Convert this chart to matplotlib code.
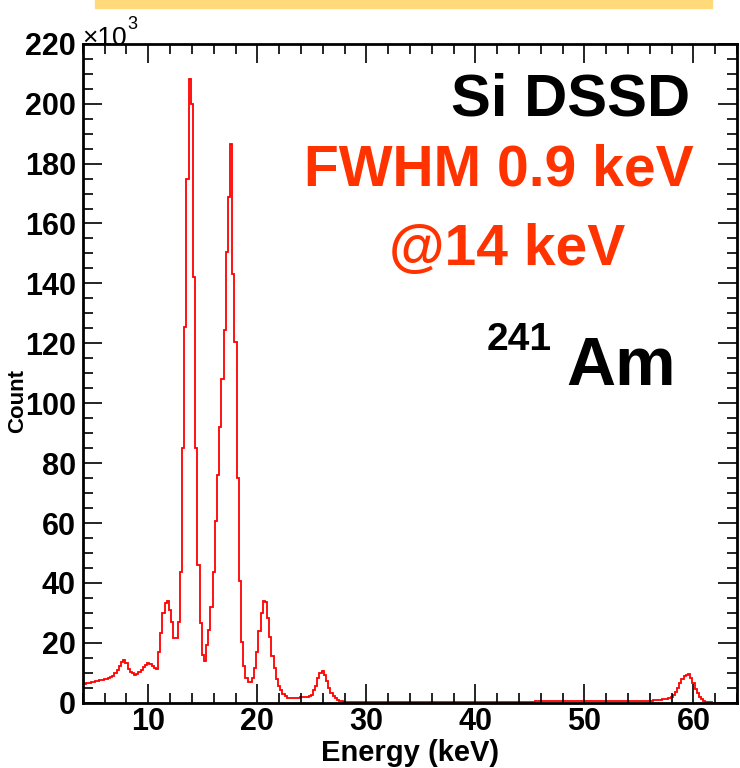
import numpy as np
import matplotlib
matplotlib.use("Agg")
import matplotlib.pyplot as plt
from matplotlib.ticker import MultipleLocator

# ROOT-like histogram of an Am-241 spectrum measured with a Si DSSD
bin_width = 0.2        # keV
first_edge = 3.9       # keV, lower edge of the first bin

# counts per bin in units of 10^3, bins centred at 4.0, 4.2, ... 64.0 keV
counts_k = [
    6.6, 6.4, 6.5, 6.6, 6.8,        # 4
    7.0, 7.1, 7.3, 7.5, 7.6,        # 5
    7.8, 8.0, 8.3, 8.6, 9.0,        # 6
    9.8, 10.8, 12.2, 13.6, 14.1,    # 7
    13.2, 11.4, 10.4, 9.8, 9.2,     # 8
    9.6, 10.2, 10.9, 11.9, 12.7,    # 9
    13.4, 13.0, 12.3, 11.6, 11.3,   # 10
    17.0, 23.2, 29.9, 33.2, 33.8,   # 11
    31.0, 27.0, 21.6, 21.6, 26.8,   # 12
    43.8, 85.0, 125.4, 175.0, 208.2,  # 13
    200.0, 142.0, 85.0, 46.0, 26.7,   # 14
    16.0, 13.8, 19.3, 24.3, 32.0,   # 15
    43.8, 60.8, 76.0, 92.0, 108.0,  # 16
    124.3, 150.4, 168.8, 186.6, 143.2,  # 17
    120.4, 75.0, 40.8, 20.4, 12.1,  # 18
    8.2, 6.8, 6.8, 8.2, 11.6,       # 19
    17.1, 23.8, 30.1, 33.8, 33.5,   # 20
    28.2, 22.1, 15.7, 11.6, 7.9,    # 21
    5.7, 4.3, 2.9, 2.1, 1.7,        # 22
    1.6, 1.5, 1.5, 1.6, 1.7,        # 23
    1.8, 1.9, 1.9, 2.0, 2.3,        # 24
    2.7, 4.3, 5.7, 8.2, 9.9,        # 25
    10.7, 9.3, 7.1, 4.9, 3.4,       # 26
    2.3, 1.6, 0.9, 0.7, 0.45,       # 27
    0.35, 0.3, 0.3, 0.28, 0.27,     # 28
    0.26, 0.25, 0.25, 0.24, 0.24,   # 29
    0.24, 0.23, 0.23, 0.22, 0.22,   # 30
    0.22, 0.21, 0.21, 0.21, 0.2,    # 31
    0.2, 0.2, 0.2, 0.19, 0.19,      # 32
    0.19, 0.19, 0.19, 0.18, 0.18,   # 33
    0.18, 0.18, 0.18, 0.18, 0.18,   # 34
    0.18, 0.18, 0.18, 0.18, 0.18,   # 35
    0.18, 0.18, 0.19, 0.19, 0.19,   # 36
    0.19, 0.19, 0.19, 0.2, 0.2,     # 37
    0.2, 0.2, 0.2, 0.2, 0.21,       # 38
    0.21, 0.21, 0.21, 0.22, 0.22,   # 39
    0.22, 0.22, 0.23, 0.23, 0.23,   # 40
    0.24, 0.24, 0.24, 0.25, 0.25,   # 41
    0.25, 0.26, 0.26, 0.27, 0.27,   # 42
    0.28, 0.28, 0.29, 0.3, 0.3,     # 43
    0.31, 0.32, 0.33, 0.34, 0.35,   # 44
    0.36, 0.38, 0.4, 0.42, 0.44,    # 45
    0.46, 0.48, 0.5, 0.52, 0.53,    # 46
    0.55, 0.56, 0.57, 0.58, 0.59,   # 47
    0.6, 0.6, 0.61, 0.61, 0.62,     # 48
    0.62, 0.62, 0.62, 0.62, 0.61,   # 49
    0.61, 0.6, 0.6, 0.59, 0.58,     # 50
    0.57, 0.57, 0.56, 0.55, 0.55,   # 51
    0.54, 0.54, 0.53, 0.53, 0.53,   # 52
    0.52, 0.52, 0.52, 0.52, 0.52,   # 53
    0.52, 0.52, 0.52, 0.53, 0.53,   # 54
    0.54, 0.55, 0.57, 0.6, 0.63,    # 55
    0.67, 0.72, 0.78, 0.85, 0.92,   # 56
    1.0, 1.1, 1.1, 1.2, 1.5,        # 57
    1.9, 2.5, 3.6, 5.0, 6.6,        # 58
    8.0, 9.0, 9.4, 9.5, 8.4,        # 59
    6.6, 4.7, 3.1, 1.9, 1.1,        # 60
    0.5, 0.3, 0.15, 0.08, 0.05,     # 61
    0.03, 0.02, 0.02, 0.01, 0.01,   # 62
    0.01, 0.01, 0.0, 0.0, 0.0,      # 63
    0.0,                            # 64
]

x_range = (4, 64)
y_range = (0, 220)
x_ticks = [10, 20, 30, 40, 50, 60]
y_ticks = [0, 20, 40, 60, 80, 100, 120, 140, 160, 180, 200, 220]

plt.rcParams["font.family"] = ["Liberation Sans", "DejaVu Sans"]
plt.rcParams["font.weight"] = "bold"

fig = plt.figure(figsize=(7.4, 7.68), dpi=100)
ax = fig.add_axes([0.112, 0.085, 0.884, 0.858])

edges = first_edge + bin_width * np.arange(len(counts_k) + 1)
ax.stairs(counts_k, edges, color="#ff0000", linewidth=1.3)

ax.set_xlim(*x_range)
ax.set_ylim(*y_range)
ax.set_xticks(x_ticks)
ax.set_yticks(y_ticks)
ax.xaxis.set_minor_locator(MultipleLocator(2))
ax.yaxis.set_minor_locator(MultipleLocator(5))
ax.tick_params(which="both", direction="in", top=True, right=True,
               width=1.2, labelsize=22)
ax.tick_params(which="major", length=14)
ax.tick_params(which="minor", length=7)
ax.tick_params(axis="x", pad=3)
ax.tick_params(axis="y", pad=5)
for lab in ax.get_xticklabels() + ax.get_yticklabels():
    lab.set_fontweight("bold")
for s in ax.spines.values():
    s.set_linewidth(2)

fig.text(0.554, 0.019, "Energy (keV)", fontsize=21, fontweight="bold",
         ha="center", va="center")
fig.text(0.024, 0.478, "Count", rotation=90, fontsize=16, fontweight="bold",
         ha="center", va="center")
fig.text(0.111, 0.942, "\u00d710", fontsize=19, fontweight="normal",
         ha="left", va="baseline")
fig.text(0.172, 0.962, "3", fontsize=13, fontweight="normal",
         ha="left", va="baseline")

# header band
fig.patches.append(plt.Rectangle((0.128, 0.989), 0.834, 0.011,
                                 transform=fig.transFigure,
                                 color="#ffd97a", zorder=0))

fig.text(0.932, 0.870, "Si DSSD", fontsize=43, fontweight="bold",
         ha="right", va="center", color="black")
fig.text(0.937, 0.778, "FWHM 0.9 keV", fontsize=41, fontweight="bold",
         ha="right", va="center", color="#ff3300")
fig.text(0.845, 0.674, "@14 keV", fontsize=41, fontweight="bold",
         ha="right", va="center", color="#ff3300")
fig.text(0.913, 0.4987, "Am", fontsize=49, fontweight="bold",
         ha="right", va="baseline", color="black")
fig.text(0.658, 0.5443, "241", fontsize=28, fontweight="bold",
         ha="left", va="baseline", color="black")

fig.savefig("out.png", dpi=100)
